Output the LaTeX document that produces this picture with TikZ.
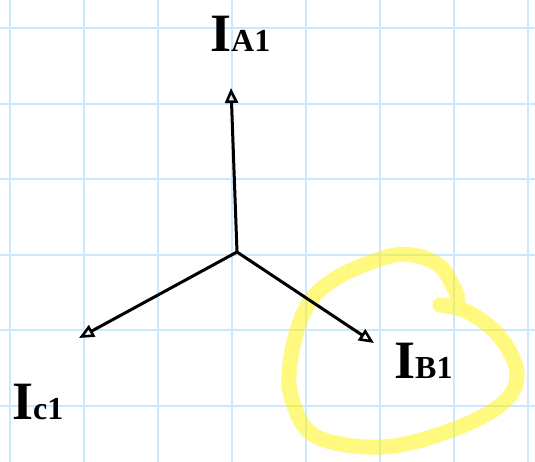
\documentclass[tikz,border=0pt]{standalone}
\usepackage{fontspec}
\setmainfont{Liberation Serif}
\usetikzlibrary{arrows.meta}
\definecolor{gridblue}{RGB}{204,232,252}
\definecolor{hl}{RGB}{255,244,0}
\tikzset{
  gridline/.style={gridblue, line width=2pt},
  phasor/.style={black, line width=3pt, line cap=round, line join=round,
    -{Triangle[open, length=15pt, width=13pt, line width=2.6pt]}},
  highlight/.style={hl, opacity=0.5, line width=15pt, line cap=round, line join=round},
  lbl/.style={inner sep=0pt, anchor=base west}
}
\newcommand{\biglbl}[2]{\bfseries{\fontsize{54}{54}\selectfont I}{\fontsize{32}{32}\selectfont #1#2}}
\begin{document}
\begin{tikzpicture}[x=1pt, y=-1pt]
\useasboundingbox (0,0) rectangle (535,462);
\fill[white] (0,0) rectangle (535,462);
% grid
\foreach \i in {0,...,7} { \draw[gridline] (10+74*\i,0) -- (10+74*\i,462); }
\foreach \j in {0,...,5} { \draw[gridline] (0,28+75.6*\j) -- (535,28+75.6*\j); }
% highlight loop
\draw[highlight] plot[smooth, tension=0.6] coordinates {(440,305) (468,312) (500,337) (517,373) (503,403) (452,430) (383,447) (317,437) (293,403) (290,363) (305,310) (333,280) (383,258) (412,255) (440,266) (455,290) (458,300)};
% phasors
\coordinate (O) at (237,252);
\coordinate (A) at (231,88);
\coordinate (B) at (374,343);
\coordinate (C) at (79,338);
\draw[phasor] (O) -- (A);
\draw[phasor] (O) -- (B);
\draw[phasor] (O) -- (C);
% labels
\node[lbl] (LA) at (210,52) {\biglbl{A}{1}};
\node[lbl] (LB) at (394,378) {\biglbl{B}{1}};
\node[lbl] (LC) at (12,419) {\biglbl{c}{1}};
\end{tikzpicture}
\end{document}
